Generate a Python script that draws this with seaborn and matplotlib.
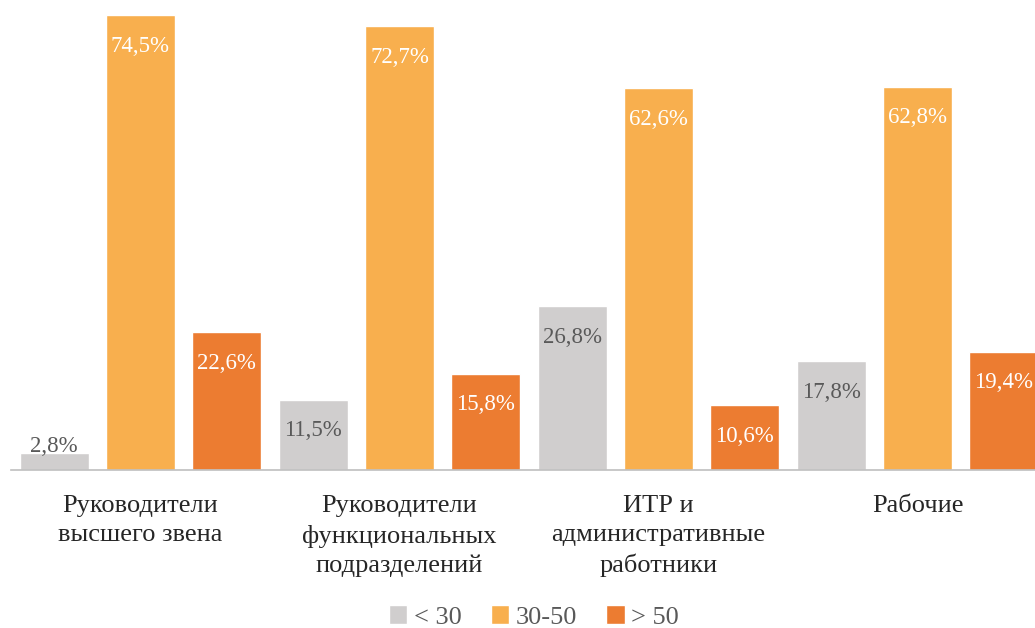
import pandas as pd
import matplotlib.pyplot as plt
import seaborn as sns

# Data
categories = ["Руководители\nвысшего звена",
              "Руководители\nфункциональных\nподразделений",
              "ИТР и\nадминистративные\nработники",
              "Рабочие"]
groups = ["< 30", "30-50", "> 50"]
under_30 = [2.8, 11.5, 26.8, 17.8]
from_30_to_50 = [74.5, 72.7, 62.6, 62.8]
over_50 = [22.6, 15.8, 10.6, 19.4]

colors = ["#D0CECE", "#F8AF4E", "#EC7C31"]
label_colors = ["#595959", "white", "white"]

df = pd.DataFrame({
    "category": categories * 3,
    "group": [g for g in groups for _ in categories],
    "value": under_30 + from_30_to_50 + over_50,
})

sns.set_theme(style="white")
plt.rcParams["font.family"] = ["Liberation Serif", "DejaVu Serif"]

fig = plt.figure(figsize=(10.35, 6.28), dpi=100)
ax = fig.add_axes([11 / 1035, 1 - 470 / 628, 1036 / 1035, 470 / 628])

sns.barplot(data=df, x="category", y="value", hue="group", order=categories,
            hue_order=groups, palette=colors, width=1.0, gap=0.2,
            saturation=1, legend=True, ax=ax)

ax.set_ylim(0, 77)
ax.set_xlim(-0.5, 3.5)

# value labels
for cont, col in zip(ax.containers, label_colors):
    for bar in cont:
        v = bar.get_height()
        y = max(v - 5.1, 3.8)
        ax.text(bar.get_x() + bar.get_width() / 2, y, f"{v:.1f}%".replace(".", ","),
                ha="center", va="center", color=col, fontsize=16.5)

# axes styling
for s in ["top", "right", "left"]:
    ax.spines[s].set_visible(False)
ax.spines["bottom"].set_color("#BFBFBF")
ax.spines["bottom"].set_linewidth(1.2)
ax.set_yticks([])
ax.set_xlabel("")
ax.set_ylabel("")
ax.tick_params(axis="x", which="major", length=0, pad=18, labelsize=19,
               labelcolor="#262626")
ax.set_xticks([-0.5, 0.5, 1.5, 2.5, 3.5], minor=True)
ax.tick_params(axis="x", which="minor", length=8, width=1.2, color="#BFBFBF",
               direction="out")
for lab in ax.get_xticklabels():
    lab.set_linespacing(1.42)

leg = ax.legend(loc="center", bbox_to_anchor=(534 / 1035, 11 / 628),
                bbox_transform=fig.transFigure, ncol=3, frameon=False,
                fontsize=19, handlelength=0.7, handleheight=0.7,
                handletextpad=0.25, columnspacing=1.1)
for t in leg.get_texts():
    t.set_color("#595959")

plt.savefig("out.png", dpi=100)
